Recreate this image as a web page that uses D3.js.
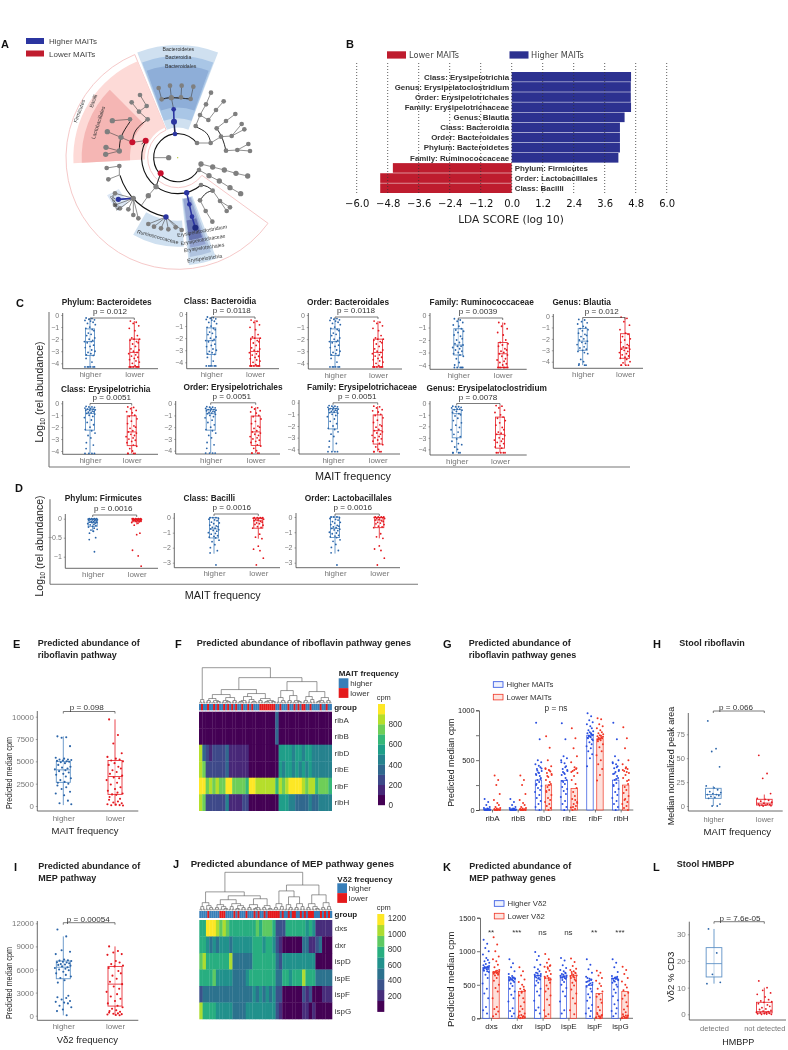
<!DOCTYPE html>
<html><head><meta charset="utf-8">
<script src="https://cdnjs.cloudflare.com/ajax/libs/d3/7.8.5/d3.min.js"></script>
<style>html,body{margin:0;padding:0;background:#fff}svg{display:block;filter:blur(.3px)}text{font-family:"Liberation Sans",Arial,sans-serif}</style>
</head><body><svg id="c" width="788" height="1050"></svg>
<script>
// ---------- DATA ----------
const ldaNames=["Class: Erysipelotrichia","Genus: Erysipelatoclostridium","Order: Erysipelotrichales","Family: Erysipelotrichaceae","Genus: Blautia","Class: Bacteroidia","Order: Bacteroidales","Phylum: Bacteroidetes","Family: Ruminococcaceae","Phylum: Firmicutes","Order: Lactobacillales","Class: Bacilli"];
const ldaValues=[4.62,4.61,4.61,4.62,4.37,4.19,4.19,4.19,4.13,-4.6,-5.09,-5.09];
const ldaTicks=[-6,-4.8,-3.6,-2.4,-1.2,0,1.2,2.4,3.6,4.8,6];

// cladogram, read in picture units around the centre (533,413)
const cladoSectors=[
 [90,335,126,337.4,"#fff","#f6c9c9"],[98,313,267,337.4,"#fddad7","none"],[143,288,267,315,"#f5b6b4","none"],
 [90,338,-21,21,"#cfe0f0","none"],[118,305,-20.5,20.5,"#a9c6e6","none"],[150,277,-19.6,19.6,"#8eaed8","none"],
 [189,267,176,210,"#cfe0f0","none"],[200,240,228,242,"#dbe6f4","none"],
 [123,324,159,174,"#cfe0f0","none"],[125,300,160.5,173,"#b0c4e0","none"],[125,272,162,172,"#94a4d2","none"],[190,250,163,172,"#6572b0","none"]];
const cladoArcs=[[72,120,412],[108,140,298],[181,191,253]];
const cladoCurves=[
 [[397,367],[408,330],[443,298]],[[358,393],[364,350],[390,305]],[[587,320],[620,340],[632,369]],[[650,325],[667,355],[678,392]],
 [[638,512],[618,520],[600,541]],[[603,495],[622,500],[638,512]],[[485,238],[514,233],[572,237]]];
const cladoNodes=[ // x,y,parentX,parentY,colour,size
 [506,413,462,413,0,8],[525,342,525,342,1,7],[522,305,525,342,1,9],[521,268,522,305,1,7],[514,233,521,268,0,8],
 [485,238,514,233,0,7],[543,232,514,233,0,7],[572,237,514,233,0,7],[476,204,485,238,0,7],[510,197,514,233,0,7],[545,197,543,232,0,7],[580,200,572,237,0,7],
 [591,369,591,369,0,7],[632,369,591,369,0,7],[587,318,587,318,0,7],[600,285,587,318,0,7],[625,300,600,285,0,7],[618,253,600,285,0,7],[633,218,618,253,0,7],[648,270,625,300,0,7],[671,244,648,270,0,7],
 [663,350,632,369,0,7],[650,325,650,325,0,7],[678,303,650,325,0,7],[706,282,678,303,0,7],[695,348,663,350,0,7],[725,312,695,348,0,7],[733,328,695,348,0,7],[678,392,678,392,0,7],[712,390,678,392,0,7],[745,372,712,390,0,7],[750,393,712,390,0,7],
 [597,450,597,450,0,7],[603,432,597,450,0,8],[638,441,603,432,0,8],[673,450,638,441,0,8],[708,460,673,450,0,8],[743,468,708,460,0,8],[627,467,597,450,0,8],[658,483,627,467,0,8],[690,503,658,483,0,8],[722,521,690,503,0,8],
 [603,495,603,495,0,7],[638,512,638,512,0,7],[600,541,600,541,0,7],[660,543,638,512,0,7],[690,562,660,543,0,7],[680,573,660,543,0,7],[617,573,600,541,0,7],[637,605,617,573,0,7],
 [560,518,560,518,1,8],[568,553,560,518,1,7],[576,590,568,553,1,7],[586,623,576,590,3,9],
 [468,500,468,500,0,8],[445,527,468,500,0,8],[425,555,445,527,0,0],[498,591,498,591,1,8],[445,612,498,591,0,7],[462,620,498,591,0,7],[483,625,498,591,0,7],[505,628,498,591,0,7],[527,622,498,591,0,7],[545,630,498,591,0,7],
 [358,465,358,465,0,0],[358,438,358,465,0,7],[320,444,358,438,0,7],[325,478,358,465,0,7],
 [400,535,400,535,0,8],[345,520,400,535,0,7],[355,538,400,535,1,8],[345,555,400,535,0,7],[360,565,400,535,0,7],[385,568,400,535,0,7],[400,585,400,535,0,7],[415,595,400,535,0,7],
 [482,460,468,500,2,9],[437,362,397,367,2,9],[397,367,363,352,2,9],[363,352,363,352,0,8],[358,393,358,393,0,8],[390,298,390,298,0,7],[337,302,390,298,0,8],[322,335,363,352,0,8],[318,382,358,393,0,8],[317,403,358,393,0,8],
 [443,298,443,298,0,7],[417,275,443,298,0,7],[395,247,417,275,0,7],[440,258,417,275,0,7],[420,225,440,258,0,7]];
const cladoLabels=[["Bacteroidetes",535,92,0],["Bacteroidia",535,117,0],["Bacteroidales",542,144,0],["Firmicutes",243,275,-70],["Bacilli",285,245,-70],["Lactobacillales",300,310,-72],["Ruminococcaceae",472,656,15],["Blautia",340,550,65],["Erysipelatoclostridium",607,638,-10],["Erysipelotrichaceae",610,664,-10],["Erysipelotrichales",613,688,-8],["Erysipelotrichia",615,720,-8]];

// jitter fractions of the box half-width
const jitter=[-.7,.35,-.2,.8,-.9,.1,.55,-.45,.95,-.05,-.75,.4,.7,-.3,.2,-.6,.85,-.15,.5,-1,.25,-.5,.65,0,-.85,.3,.9,-.35,.15,-.65,.6];

// per-taxon values (log10 rel abundance)
const bacteroidHi=[-.25,-.3,-.35,-.4,-.45,-.5,-.6,-.7,-.8,-1,-1.1,-1.2,-1.3,-1.5,-1.6,-1.7,-1.9,-2,-2.1,-2.2,-2.2,-2.3,-2.5,-2.6,-2.7,-2.9,-3,-3.1,-3.2,-3.3,-3.35,-3.6,-3.9,-4.3,-4.3,-4.3,-4.3,-4.3,-4.3];
const bacteroidLo=[-.5,-.6,-.7,-.9,-1.1,-1.3,-1.7,-1.9,-2,-2,-2.1,-2.2,-2.3,-2.4,-2.6,-2.8,-2.9,-3,-3.1,-3.2,-3.3,-3.4,-3.5,-3.6,-3.7,-3.8,-3.9,-4,-4.2,-4.3,-4.3,-4.3,-4.3,-4.3,-4.3,-4.3];
const ruminoHi=[-.3,-.4,-.5,-.6,-.8,-.9,-1.1,-1.2,-1.3,-1.4,-1.6,-1.7,-1.9,-2,-2.2,-2.3,-2.4,-2.5,-2.5,-2.6,-2.7,-2.8,-2.9,-3,-3.1,-3.2,-3.3,-3.5,-3.8,-4,-4.2,-4.2,-4.2,-4.2,-4.2];
const ruminoLo=[-.6,-.7,-.9,-1.1,-1.4,-1.6,-2,-2.2,-2.3,-2.4,-2.5,-2.7,-2.8,-2.9,-3,-3.1,-3.2,-3.3,-3.5,-3.6,-3.7,-3.8,-3.9,-4,-4.2,-4.2,-4.2,-4.2,-4.2,-4.2,-4.2];
const blautiaHi=[-.3,-.35,-.5,-.6,-.7,-.9,-1,-1.1,-1.2,-1.3,-1.5,-1.6,-1.7,-1.8,-2,-2.1,-2.2,-2.3,-2.4,-2.5,-2.7,-2.8,-2.9,-3,-3.1,-3.2,-3.3,-3.8,-4,-4.2,-4.3,-4.3,-4.3];
const blautiaLo=[-.1,-.2,-.5,-.8,-1.2,-1.5,-1.6,-1.8,-2,-2.1,-2.3,-2.5,-2.6,-2.7,-2.8,-2.9,-2.9,-3,-3.1,-3.2,-3.3,-3.4,-3.5,-3.6,-3.7,-3.8,-4,-4.1,-4.3,-4.3,-4.3,-4.3];
const erysipHi=[-.25,-.3,-.3,-.35,-.4,-.45,-.5,-.5,-.55,-.6,-.6,-.65,-.7,-.75,-.8,-.85,-.9,-1,-1.1,-1.2,-1.4,-1.6,-1.8,-2,-2.2,-2.3,-2.5,-2.7,-2.9,-3.3,-3.5,-3.8,-4.2,-4.2,-4.2,-4.2];
const erysipLo=[-.3,-.35,-.45,-.6,-.7,-.8,-1,-1.1,-1.3,-1.5,-1.7,-1.9,-2,-2.1,-2.3,-2.4,-2.5,-2.6,-2.7,-2.8,-2.9,-3,-3.1,-3.2,-3.3,-3.5,-3.6,-3.8,-4,-4.2,-4.2,-4.2,-4.2];
const clostrHi=[-.25,-.3,-.3,-.35,-.4,-.5,-.5,-.55,-.6,-.7,-.8,-.9,-1,-1.1,-1.3,-1.5,-1.7,-1.9,-2.1,-2.3,-2.5,-2.7,-2.9,-3.1,-3.3,-3.5,-3.6,-3.8,-4,-4.3,-4.3,-4.3,-4.3];
const clostrLo=[-.2,-.25,-.4,-.6,-.8,-1,-1.2,-1.3,-1.5,-1.7,-1.9,-2.1,-2.3,-2.5,-2.6,-2.7,-2.8,-3,-3.1,-3.2,-3.3,-3.4,-3.5,-3.7,-3.8,-3.9,-4.3,-4.3,-4.3,-4.3,-4.3];
const firmHi=[0,0,0,0,-.01,-.01,-.02,-.02,-.03,-.03,-.04,-.05,-.06,-.07,-.08,-.09,-.1,-.1,-.12,-.13,-.15,-.16,-.18,-.2,-.22,-.25,-.28,-.3,-.33,-.38,-.5,-.55,-.87];
const firmLo=[0,0,0,0,0,-.01,-.01,-.02,-.02,-.02,-.03,-.03,-.04,-.04,-.05,-.05,-.06,-.07,-.08,-.1,-.12,-.17,-.38,-.42,-.83,-.98,-1.25];
const bacilliHi=[0,0,0,-.05,-.1,-.15,-.2,-.3,-.35,-.4,-.5,-.55,-.6,-.65,-.7,-.75,-.8,-.85,-.9,-1,-1.05,-1.1,-1.2,-1.25,-1.3,-1.35,-1.5,-1.6,-1.8,-2,-2.2,-2.35,-3.15];
const bacilliLo=[0,0,0,0,-.03,-.05,-.05,-.1,-.1,-.15,-.2,-.25,-.3,-.35,-.4,-.45,-.5,-.6,-.65,-.7,-1.1,-1.3,-1.4,-1.9,-2.1,-2.2,-2.7,-3.15];
const bxBacteroid=[[-4.3,-3.35,-2.2,-1.15,-.25],[-4.3,-4.3,-3.1,-2,-.5]];
const bxRumino=[[-4.2,-3.2,-2.4,-1.1,-.3],[-4.2,-4.2,-3.1,-2.2,-.6]];
const bxBlautia=[[-4.3,-3,-2.2,-1.1,-.3],[-4.3,-3.7,-2.8,-1.55,-.1]];
const bxErysip=[[-4.2,-2.25,-.85,-.5,-.25],[-4.2,-3.55,-2.4,-1.05,-.3]];
const bxClostr=[[-4.3,-3,-.9,-.55,-.25],[-4.3,-3.9,-2.7,-1.2,-.2]];
const bxFirm=[[-.35,-.2,-.1,-.01,0],[-.15,-.08,-.04,-.01,0]];
const bxBacilli=[[-2.4,-1.35,-.75,0,0],[-1.4,-.7,-.2,-.03,0]];
// pathway panels
const riboHi=[7800,7700,7650,6700,5400,5300,5200,5200,5150,5100,5050,5000,4950,4900,4800,4600,4400,4300,4200,4100,4000,3900,3750,3600,3500,3300,3100,2900,2700,2600,2500,2300,2100,1900,1600,1400,1200,600,300,200];
const riboLo=[9700,7950,7000,5900,5500,5300,5200,5100,5000,4800,4600,4400,4200,4000,3800,3600,3400,3200,3100,2900,2600,2400,2100,1900,1700,1500,1400,1300,1250,1000,800,700,500,400,300,200,150,100,80,50];
const mepHi=[11200,10300,8500,8300,8000,7300,7200,7150,7100,7000,6950,6900,6800,6700,6650,6600,6500,6400,6300,6200,6100,6000,5900,5700,5500,5300,5100,4900,4600,4300,2600,2400,2300,2100,1900,1800,1700,1600,1300,1100,800,600,50];
const mepLo=[9000,8400,8200,8000,7900,7100,6900,6700,6500,6400,6200,5800,5500,5200,4800,4400,4100,3800,3500,3100,2800,2500,2200,1900,1600,1300,1100,900,700,600,500,400,300,250,200,150,100,50];
const hFlavHi=[89,60,57,41,21,19,17,15,14,13,12,12,11,10,9,8,2,0,0];
const hFlavLo=[53,34,29,13,8,7,6,5,4,3,2,2,1.5,1,1,.5,.3,0];
const hmbHi=[32,23,15,12,11.5];
const hmbLo=[12.5,10,9,8,7.5,6.5,5.5,5,4.7,4.5,4,3.5,3,2.5,2,1.8,1.5,1.2,1,.8,.6,.5,.4,.3,.2,.1,0,0];
const bxRibo=[[100,2650,4050,5000,7800],[50,1300,3300,5100,9700]];
const bxMep=[[50,4800,6300,7100,10300],[50,1250,4100,6400,9000]];
const bxFlav=[[0,8,12,18.5,21],[0,1,3,7,12]];
const bxHmb=[[11.5,14,19,25,32],[0,.5,1,4.5,10]];

const ribGenes=["ribA","ribB","ribD","ribE","ribF","ribH"];
const ribMeans=[[6,6],[6,6],[300,250],[295,215],[750,715],[300,250]];
const ribPoints=[
 [[110,80,50,30,20,15,10,8,6,5,4,3,2,1,0,0,0,0],[345,300,250,160,100,70,50,30,20,15,10,8,5,3,1,0,0,0]],
 [[110,80,50,30,20,15,10,8,6,5,4,3,2,1,0,0,0,0],[345,300,250,160,100,70,50,30,20,15,10,8,5,3,1,0,0,0]],
 [[875,710,500,480,460,445,430,410,390,375,360,340,320,300,280,260,240,220,200,180,150,120,90,60,30,0,415,395,370,350,310,250],[740,625,500,440,420,400,385,370,350,330,300,280,260,230,200,180,150,120,100,80,60,40,20,0,410,395,360,340,250,190]],
 [[870,710,540,520,500,470,440,410,390,370,350,320,300,280,260,230,210,190,160,130,90,60,30,0,480,430,400,380,360,290],[820,720,620,540,480,430,410,390,370,340,300,260,220,180,140,110,80,60,40,25,10,0,420,400,380,100,70,30]],
 [[970,940,900,880,860,840,820,800,790,780,770,760,750,740,730,720,700,680,660,640,620,590,560,520,440,770,755,745,735,725,710],[920,910,860,840,820,800,780,770,760,750,740,730,720,710,700,690,660,630,590,550,500,460,410,350,295,745,735,725,715,705]],
 [[875,710,540,500,480,460,440,420,400,380,360,340,320,300,270,240,210,180,150,120,90,60,30,0,470,430,390,365,310,250],[830,720,620,500,460,430,410,390,370,350,320,290,260,230,200,170,140,110,80,60,40,20,0,420,400,380,300,100]]];
const mepGenes=["dxs","dxr","ispD","ispE","ispF","ispG"];
const mepMeans=[[760,690],[600,400],[640,600],[630,640],[490,370],[590,400]];
const mepSig=["**","***","ns","ns","**","***"];
const mepPoints=[
 [[1170,1110,1050,1000,950,900,870,850,830,810,790,770,760,750,730,710,690,650,600,520,440,370,300,170,120,70,780,765,755,745,735,720,700],[1210,1100,1000,920,880,850,800,760,720,700,690,680,660,640,600,560,500,450,400,300,170,140,100,60,30,710,695,685,675,665,650]],
 [[880,820,760,700,660,630,610,600,590,580,570,560,540,520,480,440,400,350,300,250,150,110,70,30,615,605,595,585,575,565],[760,700,640,580,540,500,470,440,410,380,340,300,240,180,140,100,70,50,30,20,10,0,430,400,40,25,15,5]],
 [[990,930,870,800,760,730,700,680,660,640,620,600,580,560,530,490,440,400,340,260,160,120,70,670,650,640,630,610,590],[960,880,830,790,770,740,710,690,660,630,600,570,530,490,440,400,340,280,200,120,60,30,780,760,620,600,580]],
 [[900,860,790,750,720,700,680,660,640,620,610,600,590,570,540,500,450,400,330,250,120,70,670,650,635,625,615,605],[890,840,780,740,720,700,680,660,640,620,600,580,560,530,490,430,370,300,220,120,60,690,670,650,630,610]],
 [[880,800,730,680,620,590,570,550,530,500,470,440,400,360,310,260,200,150,110,70,30,600,580,560,540,520,500],[710,680,640,600,560,520,480,440,400,360,320,280,230,170,120,80,50,30,20,10,0,60,40,25,15,5]],
 [[880,830,760,690,630,610,600,590,570,550,530,500,470,430,380,330,270,210,150,110,70,30,620,605,595,585,575,560],[770,720,660,600,550,500,460,420,380,340,290,240,180,130,90,60,40,20,10,0,40,30,20,10,5]]];

// heatmaps: genes by 40 ordered columns (cpm)
const heatF=[
 [60,0,0,0,0,0,0,0,0,0,0,0,0,60,0,0,0,0,0,0,0,0,0,350,0,0,0,0,0,0,0,0,0,0,0,60,0,0,0,0],
 [60,0,0,0,0,0,0,0,0,0,0,0,0,60,0,0,0,0,0,0,0,0,0,350,0,0,0,0,0,0,0,0,0,0,0,60,0,0,0,0],
 [850,350,250,150,250,250,250,250,350,130,130,130,130,130,130,10,10,10,10,10,10,60,10,10,520,580,500,520,450,500,520,450,500,550,420,420,450,420,420,450],
 [880,720,250,250,250,250,250,250,350,130,130,130,130,130,130,10,10,10,10,10,10,10,10,60,520,480,560,500,460,500,450,520,460,520,420,450,420,450,420,420],
 [950,980,750,800,780,850,780,750,900,960,780,780,780,780,650,900,950,800,800,800,800,800,850,650,800,780,880,950,980,900,950,820,780,850,820,650,720,720,720,650],
 [880,700,250,250,250,250,250,250,400,130,180,130,130,220,220,10,10,10,10,10,10,10,10,10,550,580,520,460,460,380,350,350,350,400,350,350,400,400,400,400]];
const heatJ=[
 [720,720,1180,1250,1220,1100,960,980,920,760,720,700,760,800,720,760,820,950,820,900,950,880,820,350,300,380,700,760,740,720,760,820,650,800,680,200,230,200,180,230],
 [800,720,560,520,600,520,560,600,560,520,600,620,580,640,620,560,720,700,720,680,720,700,680,320,260,0,0,0,0,0,0,450,430,250,260,400,420,120,100,90],
 [950,980,760,720,820,760,740,760,800,1030,520,500,480,500,520,520,780,820,760,780,800,780,760,420,360,650,640,680,620,660,640,620,680,640,680,50,60,40,50,50],
 [820,800,780,800,840,620,600,640,600,560,500,520,480,500,680,700,720,700,720,700,700,720,700,500,480,720,700,680,720,700,720,1000,800,820,780,460,440,480,430,450],
 [350,520,500,430,460,440,480,420,460,440,520,500,480,520,500,540,560,540,560,520,580,540,560,340,300,0,0,0,0,0,0,320,260,280,50,50,60,250,230,260],
 [1020,820,780,800,760,640,620,600,580,560,450,430,470,450,640,660,680,640,660,620,660,640,680,300,260,0,0,0,0,0,0,200,220,130,150,60,50,40,60,50]];
const groupF="hlhhlhhlhlhhlhlhlhlhhlhhlhlhhhllllllllhhlhhhlhhlhlhllhhlhhhhlhhlhh";
const groupJ="hhhhlhhhhhlllhhhhlhlhhhlhhhlhlhhlhllllllhlhhlhllhhlhlhlllhhhlhlhlh";
const treeF=[36,[4,0,0],[26,
 [14,[9,[5,[3,0,0],[3,0,[2,0,0]]],[6,[3,0,[2,0,0]],[3,0,0]]],[10,[7,[3,[2,0,0],0],[4,0,[2,0,0]]],[5,[3,0,0],[3,[2,0,0],[2,0,0]]]]],
 [22,[13,[6,0,[3,0,0]],[8,[3,0,0],[3,0,[2,0,0]]]],[12,[7,[3,0,0],[4,0,0]],[6,[3,[2,0,0],0],[3,0,0]]]]]];
const treeJ=[39,[19,[8,[4,0,0],[5,0,[3,0,0]]],[15,[11,[6,[3,0,0],[4,0,[2,0,0]]],[7,[4,0,0],[5,[2,0,0],[3,0,0]]]],[12,[6,[3,0,0],[3,[2,0,0],0]],[5,[3,0,0],[2,0,0]]]]],
 [26,[20,[7,[3,0,0],[4,0,0]],[14,[6,0,[3,0,0]],[7,[3,0,0],[4,0,0]]]],[16,[7,[3,0,0],[4,0,[2,0,0]]],[8,[3,0,0],[4,0,0]]]]];

// ---------- LAYOUT ----------
const BLUE="#2a64a8",RED="#e3171e",BLUEB="#5f92c6",REDB="#e8323a",GRAY="#777",INK="#333";
const svg=d3.select("#c");
svg.append("rect").attr("width",788).attr("height",1050).attr("fill","#fff");
function t(x,y,s,o={}){const e=svg.append("text").attr("x",x).attr("y",y).text(s)
 .attr("font-size",o.fs||8).attr("fill",o.c||INK).attr("text-anchor",o.a||"start").attr("font-weight",o.b?"bold":"normal");
 if(o.r!==undefined)e.attr("transform",`rotate(${o.r} ${x} ${y})`);if(o.f)e.style("font-family",o.f);
 if(o.len)e.attr("textLength",o.len).attr("lengthAdjust","spacingAndGlyphs");return e;}
function line(x1,y1,x2,y2,c,w){svg.append("line").attr("x1",x1).attr("y1",y1).attr("x2",x2).attr("y2",y2).attr("stroke",c).attr("stroke-width",w);}
[["A",1,48],["B",346,47.5],["C",16,306.5],["D",15,492],["E",13,648],["F",175,648],["G",443,648],["H",653,648],["I",14,871],["J",173,868],["K",443,871],["L",653,871]]
 .forEach(d=>t(d[1],d[2],d[0],{fs:11,b:1,c:"#111"}));

// ---- A ----
const ax=d3.scaleLinear([0,1020],[0,340]),ay=d3.scaleLinear([0,810],[20,290]),ar=d3.scaleLinear([0,300],[0,100]);
const cx=ax(533),cy=ay(413),rad=Math.PI/180;
const gA=svg.append("g").attr("transform",`translate(${cx},${cy})`);
const arc=d3.arc();
cladoSectors.forEach(s=>gA.append("path").attr("d",arc({innerRadius:ar(s[0]),outerRadius:ar(s[1]),startAngle:s[2]*rad,endAngle:s[3]*rad})).attr("fill",s[4]).attr("stroke",s[5]).attr("stroke-width",1));
cladoArcs.forEach(s=>gA.append("path").attr("d",arc({innerRadius:ar(s[0]),outerRadius:ar(s[0]),startAngle:s[1]*rad,endAngle:s[2]*rad})).attr("fill","none").attr("stroke","#111").attr("stroke-width",1.1));
const curveGen=d3.line().x(d=>ax(d[0])).y(d=>ay(d[1])).curve(d3.curveNatural);
cladoCurves.forEach(c=>svg.append("path").attr("d",curveGen(c)).attr("fill","none").attr("stroke","#111").attr("stroke-width",.9));
const nodeCol=["#7f7f7f","#2b35a0","#c8102e","#1f2a80"];
cladoNodes.forEach(n=>{const blue=n[4]===1||n[4]===3;line(ax(n[2]),ay(n[3]),ax(n[0]),ay(n[1]),blue?"#2b35a0":"#444",blue?1.6:.6);});
[[525,342,522,305],[482,460,468,500],[437,362,425,372]].forEach(d=>line(ax(d[0]),ay(d[1]),ax(d[2]),ay(d[3]),"#222",.8));
cladoNodes.filter(n=>n[5]).forEach(n=>svg.append("circle").attr("cx",ax(n[0])).attr("cy",ay(n[1])).attr("r",ar(n[5])).attr("fill",nodeCol[n[4]]));
svg.append("circle").attr("cx",cx).attr("cy",cy).attr("r",.7).attr("fill","#b8c43a");
cladoLabels.forEach(l=>t(ax(l[1]),ay(l[2]),l[0],{fs:5.2,c:"#333",a:"middle",r:l[3]}));
[["Higher MAITs","#2b35a0",38],["Lower MAITs","#c01c2e",50.5]].forEach(d=>{svg.append("rect").attr("x",26).attr("y",d[2]).attr("width",18).attr("height",6).attr("fill",d[1]);t(49,d[2]+6,d[0],{fs:8,c:"#444"});});

// ---- B ----
const bx=d3.scaleLinear([-6,6],[356.7,666.7]);
const by=d3.scaleBand(ldaNames,[71.5,193.5]).padding(.05);
svg.selectAll(".lda").data(ldaNames).join("rect").attr("x",(d,i)=>bx(Math.min(0,ldaValues[i]))).attr("y",d=>by(d)).attr("width",(d,i)=>Math.abs(bx(ldaValues[i])-bx(0))).attr("height",by.bandwidth()).attr("fill",(d,i)=>ldaValues[i]>0?"#2c3190":"#be1c2e");
ldaTicks.forEach(v=>svg.append("line").attr("x1",bx(v)).attr("x2",bx(v)).attr("y1",63).attr("y2",193).attr("stroke","#333").attr("stroke-width",.8).attr("stroke-dasharray","1,2"));
ldaNames.forEach((d,i)=>{const pos=ldaValues[i]>0;t(bx(0)+(pos?-2.5:3),by(d)+by.bandwidth()/2+2.8,d,{fs:7.9,b:1,c:"#333",a:pos?"end":"start"});});
const bAxis=svg.append("g").attr("transform","translate(0,193)").call(d3.axisBottom(bx).tickValues(ldaTicks).tickSize(0).tickPadding(7).tickFormat(v=>d3.format(".1f")(v).replace("-","\u2212")));
bAxis.select(".domain").remove();bAxis.selectAll("text").attr("font-size",10).attr("fill","#111").style("font-family","DejaVu Sans");
t(511,222.5,"LDA SCORE (log 10)",{fs:10.6,a:"middle",c:"#222",f:"DejaVu Sans"});
[["Lower MAITs","#be1c2e",387,409],["Higher MAITs","#2c3190",509.5,531]].forEach(d=>{svg.append("rect").attr("x",d[2]).attr("y",51.3).attr("width",19).attr("height",7.3).attr("fill",d[1]);t(d[3],57.8,d[0],{fs:8.2,c:"#444",f:"DejaVu Sans"});});

// ---- box panels ----
function boxPanel(p){
 const y=d3.scaleLinear([p.tk[0],p.tk[1]],[p.y0,p.y1]);
 const x=d3.scaleOrdinal(p.cats,[p.hi,p.lo]);
 const ya=svg.append("g").attr("transform",`translate(${p.ax},0)`).call(d3.axisLeft(y).tickValues(p.ticks).tickSize(p.tsize||1.5).tickPadding(p.pad||2).tickFormat(v=>String(v).replace("-","\u2212")));
 ya.select(".domain").remove();ya.selectAll("line").attr("stroke","#555").attr("stroke-width",.5);
 ya.selectAll("text").attr("font-size",p.tfs||7).attr("fill",GRAY);
 const xa=svg.append("g").attr("transform",`translate(0,${p.bot})`).call(d3.axisBottom(x).tickSize(0).tickPadding(p.xpad||3));
 xa.select(".domain").remove();xa.selectAll("text").attr("font-size",p.xfs||8).attr("fill",GRAY);
 line(p.ax,p.top,p.ax,p.bot,"#444",.8);line(p.ax,p.bot,p.xr,p.bot,"#444",.8);
 const w=p.bw||9;
 p.box.forEach((b,i)=>{const c=x(p.cats[i]),col=i?REDB:BLUEB;
  line(c,y(b[0]),c,y(b[4]),col,.9);
  svg.append("rect").attr("x",c-w/2).attr("y",y(b[3])).attr("width",w).attr("height",Math.abs(y(b[1])-y(b[3]))).attr("fill","#fff").attr("fill-opacity",.55).attr("stroke",col).attr("stroke-width",.9);
  line(c-w/2,y(b[2]),c+w/2,y(b[2]),col,.9);
  svg.selectAll(null).data(p.pts[i]).join("circle").attr("cx",(d,k)=>c+jitter[k%jitter.length]*w*(p.jit||.62)).attr("cy",d=>y(d)).attr("r",p.pr||.9).attr("fill",i?RED:BLUE);
 });
 if(p.title)t(p.tx,p.ty,p.title,{fs:p.tlfs||8.3,b:1,c:"#222",a:"middle"});
 const by0=p.brY||p.py+4;
 svg.append("path").attr("d",`M${p.hi},${by0+2}V${by0}H${p.lo}V${by0+2}`).attr("fill","none").attr("stroke","#444").attr("stroke-width",.7);
 t(p.px,p.py,p.p,{fs:p.pfs||8.1,a:"middle",c:"#333"});
}
const cats=["higher","lower"],tk4=[0,-1,-2,-3,-4];
function cp(o){return Object.assign({cats,ticks:tk4,tk:[0,-4]},o);}
[
 cp({title:"Phylum: Bacteroidetes",p:"p = 0.012",ax:62.7,xr:158,top:313,bot:368.7,y0:315,y1:363.3,hi:90,lo:134.3,tx:106.7,ty:304.5,px:110,py:314,box:bxBacteroid,pts:[bacteroidHi,bacteroidLo]}),
 cp({title:"Class: Bacteroidia",p:"p = 0.0118",ax:186.7,xr:279,top:312,bot:368.7,y0:314,y1:362.3,hi:211.3,lo:255,tx:220,ty:304,px:231.7,py:313,box:bxBacteroid,pts:[bacteroidHi,bacteroidLo]}),
 cp({title:"Order: Bacteroidales",p:"p = 0.0118",ax:308.3,xr:402,top:313,bot:369,y0:315,y1:363.3,hi:335,lo:378,tx:348,ty:304.5,px:356,py:313,box:bxBacteroid,pts:[bacteroidHi,bacteroidLo]}),
 cp({title:"Family: Ruminococcaceae",p:"p = 0.0039",ax:430,xr:526.7,top:313,bot:369.3,y0:315,y1:365,hi:458.3,lo:502.7,tx:481.7,ty:305,px:478,py:314,box:bxRumino,pts:[ruminoHi,ruminoLo]}),
 cp({title:"Genus: Blautia",p:"p = 0.012",ax:553.3,xr:643,top:314,bot:368.3,y0:316,y1:361.7,hi:582.7,lo:625,tx:581.7,ty:304.5,px:601.7,py:313.5,box:bxBlautia,pts:[blautiaHi,blautiaLo]}),
 cp({title:"Class: Erysipelotrichia",p:"p = 0.0051",ax:62.7,xr:158,top:401,bot:454.3,y0:403.3,y1:451,hi:90,lo:131.7,tx:105.7,ty:391.5,px:111.7,py:399.5,box:bxErysip,pts:[erysipHi,erysipLo]}),
 cp({title:"Order: Erysipelotrichales",p:"p = 0.0051",ax:175.7,xr:280,top:401,bot:454,y0:403.7,y1:450.7,hi:210.7,lo:255.7,tx:233,ty:390,px:231.7,py:398.8,box:bxErysip,pts:[erysipHi,erysipLo]}),
 cp({title:"Family: Erysipelotrichaceae",p:"p = 0.0051",ax:299,xr:400,top:400,bot:454,y0:402.7,y1:449.3,hi:333,lo:377.7,tx:362,ty:390,px:357.3,py:398.8,box:bxErysip,pts:[erysipHi,erysipLo]}),
 cp({title:"Genus: Erysipelatoclostridium",p:"p = 0.0078",ax:430,xr:526.7,top:401,bot:455,y0:403.3,y1:449.3,hi:456.7,lo:500,tx:486.7,ty:391,px:478,py:399.5,box:bxClostr,pts:[clostrHi,clostrLo]}),
 cp({title:"Phylum: Firmicutes",p:"p = 0.0016",ax:65.3,xr:158,top:514,bot:568.3,y0:518.7,y1:556.7,tk:[0,-1],ticks:[0,-.5,-1],hi:92.7,lo:136.7,tx:103.3,ty:501,px:113.3,py:511,box:bxFirm,pts:[firmHi,firmLo],jit:.55}),
 cp({title:"Class: Bacilli",p:"p = 0.0016",ax:174.3,xr:280,top:513,bot:567.7,y0:517.7,y1:562.7,tk:[0,-3],ticks:[0,-1,-2,-3],hi:214,lo:258.3,tx:209.3,ty:501,px:231.7,py:510,box:bxBacilli,pts:[bacilliHi,bacilliLo]}),
 cp({title:"Order: Lactobacillales",p:"p = 0.0016",ax:296,xr:400,top:513,bot:567.7,y0:517,y1:562.7,tk:[0,-3],ticks:[0,-1,-2,-3],hi:335,lo:379.3,tx:348.3,ty:501,px:352.7,py:510,box:bxBacilli,pts:[bacilliHi,bacilliLo]})
].forEach(boxPanel);
// outer frames C, D
line(49,312,49,467,"#777",1.1);line(49,467,630,467,"#777",1.1);
line(50,499.3,50,584.3,"#777",1.1);line(50,584.3,418,584.3,"#777",1.1);
function logLabel(x,y){const e=svg.append("text").attr("transform",`translate(${x},${y}) rotate(-90)`).attr("text-anchor","middle").attr("font-size",10.5).attr("fill","#222");
 e.append("tspan").text("Log");e.append("tspan").text("10").attr("font-size",6.3).attr("dy",1.5);e.append("tspan").text(" (rel abundance)").attr("dy",-1.5);}
logLabel(43,392);logLabel(43,546);
t(353,480,"MAIT frequency",{fs:10.8,a:"middle",c:"#222"});
t(222.7,598.5,"MAIT frequency",{fs:10.8,a:"middle",c:"#222"});

// E, I, H, L
function titleBlock(x,y,lines,fs){lines.forEach((l,i)=>t(x,y+i*12.2,l,{fs:fs||9,b:1,c:"#222"}));}
titleBlock(37.7,646,["Predicted abundance of","riboflavin pathway"]);
boxPanel({cats,ticks:[0,2500,5000,7500,10000],tk:[0,10000],ax:37.3,xr:138.3,top:711,bot:811,y0:806,y1:716.7,hi:63.3,lo:115,box:bxRibo,pts:[riboHi,riboLo],bw:14,p:"p = 0.098",px:86.7,py:710,brY:711.5,tfs:7.8,xfs:8,xpad:4,tsize:1.5,pr:1.05,jit:.6});
t(85,833.5,"MAIT frequency",{fs:9.5,a:"middle",c:"#222"});
t(12,773,"Predicted median cpm",{fs:8.8,a:"middle",r:-90,c:"#222",len:72});
titleBlock(38.3,869,["Predicted abundance of","MEP pathway"]);
boxPanel({cats,ticks:[0,3000,6000,9000,12000],tk:[0,12000],ax:37.3,xr:138.3,top:921,bot:1020.3,y0:1015.7,y1:923.3,hi:63.3,lo:115,box:bxMep,pts:[mepHi,mepLo],bw:14,p:"p = 0.00054",px:88.3,py:921.5,brY:922.7,tfs:7.8,xfs:8,xpad:3,pr:1.05,jit:.6});
t(87.3,1043,"V\u03b42 frequency",{fs:9.5,a:"middle",c:"#222"});
t(12,983,"Predicted median cpm",{fs:8.8,a:"middle",r:-90,c:"#222",len:72});
t(679.3,645.5,"Stool riboflavin",{fs:9,b:1,c:"#222"});
boxPanel({cats,ticks:[0,25,50,75],tk:[0,75],ax:688.3,xr:782.7,top:713,bot:811,y0:806,y1:734.3,hi:713.3,lo:764.3,box:bxFlav,pts:[hFlavHi,hFlavLo],bw:15.7,p:"p = 0.066",px:736,py:710,brY:711,tfs:7.5,xfs:7.5,xpad:6,jit:.5});
t(737.3,835,"MAIT frequency",{fs:9.6,a:"middle",c:"#222"});
t(674,766,"Median normalized peak area",{fs:9,a:"middle",r:-90,c:"#222"});
t(676.7,867,"Stool HMBPP",{fs:9,b:1,c:"#222"});
boxPanel({cats:["detected","not detected"],ticks:[0,10,20,30],tk:[0,30],ax:689.3,xr:786,top:921.7,bot:1020,y0:1014.3,y1:934.3,hi:714,lo:764.3,box:bxHmb,pts:[hmbHi,hmbLo],bw:15.7,p:"p = 7.6e-05",px:740,py:921,brY:921.7,tfs:8,xfs:7.5,xpad:6,jit:.5});
t(738.3,1044.5,"HMBPP",{fs:9,a:"middle",c:"#222"});
t(674,976.7,"V\u03b42 % CD3",{fs:9.6,a:"middle",r:-90,c:"#222"});

// bar panels G, K
function barPanel(p){
 const y=d3.scaleLinear([0,p.max],[p.y0,p.y1]);
 const x=d3.scalePoint(p.genes,[p.c0,p.c1]);
 const o=d3.scalePoint([0,1],[-5,5]);
 const ya=svg.append("g").attr("transform",`translate(${p.ax},0)`).call(d3.axisLeft(y).tickValues(p.ticks).tickSize(3).tickPadding(1.5).tickFormat(v=>p.labels.includes(v)?v:""));
 ya.selectAll("text").attr("font-size",7.4).attr("fill","#222");ya.select(".domain").attr("stroke","#333").attr("stroke-width",.7);ya.selectAll("line").attr("stroke","#333").attr("stroke-width",.7);
 const xa=svg.append("g").attr("transform",`translate(0,${p.y0})`).call(d3.axisBottom(x).tickSize(2.5).tickPadding(3));
 xa.select(".domain").remove();xa.selectAll("line").attr("stroke","#333").attr("stroke-width",.6);xa.selectAll("text").attr("font-size",8).attr("fill","#222");
 line(p.ax,p.y0,p.xr,p.y0,"#333",.7);
 const cols=["#2a4fe0","#f03525"],pale=["#fff","#fdd8d2"];
 p.genes.forEach((g,i)=>[0,1].forEach(s=>{const c=x(g)+o(s),m=p.means[i][s];
  svg.append("rect").attr("x",c-3.2).attr("y",y(m)).attr("width",6.4).attr("height",y(0)-y(m)).attr("fill",pale[s]).attr("fill-opacity",.8).attr("stroke",cols[s]).attr("stroke-width",.7);
  svg.selectAll(null).data(p.pts[i][s]).join("circle").attr("cx",(d,k)=>c+jitter[k%jitter.length]*3.4).attr("cy",d=>y(d)).attr("r",1).attr("fill",cols[s]);
 }));
 p.leg.forEach((l,i)=>{svg.append("rect").attr("x",p.lx).attr("y",p.ly[i]).attr("width",9.7).attr("height",5.6).attr("fill",["#eef1fd","#fde4df"][i]).attr("stroke",cols[i]).attr("stroke-width",.8);t(p.lx+13.3,p.ly[i]+5.6,l,{fs:7.8,c:"#333"});});
 return {x,o};
}
titleBlock(468.7,646,["Predicted abundance of","riboflavin pathway genes"]);
barPanel({genes:ribGenes,means:ribMeans,pts:ribPoints,max:1000,y0:810,y1:710.3,ax:479,xr:633.3,c0:492,c1:620.7,ticks:[0,250,500,750,1000],labels:[0,500,1000],lx:493.3,ly:[681.7,694.3],leg:["Higher MAITs","Lower MAITs"]});
t(556,711,"p = ns",{fs:8.3,a:"middle"});
t(454,762.7,"Predicted median cpm",{fs:8.9,a:"middle",r:-90,c:"#222"});
titleBlock(469.3,869,["Predicted abundance of","MEP pathway genes"]);
const kk=barPanel({genes:mepGenes,means:mepMeans,pts:mepPoints,max:1500,y0:1018.3,y1:917.7,ax:480,xr:633,c0:491,c1:620,ticks:[0,500,1000,1500],labels:[0,500,1000,1500],lx:494.3,ly:[900.7,913.3],leg:["Higher V\u03b42","Lower V\u03b42"]});
mepGenes.forEach((g,i)=>t(kk.x(g),mepSig[i]==="ns"?935:934.5,mepSig[i],{fs:8,a:"middle"}));
t(454,979.3,"Predicted median cpm",{fs:9.6,a:"middle",r:-90,c:"#222"});

// heatmaps F, J
function heatPanel(p){
 const cols=d3.range(p.data[0].length);
 const x=d3.scaleBand(cols,[p.x0,p.x1]);
 const y=d3.scaleBand(p.genes,[p.y0,p.y1]);
 const col=d3.scaleQuantize([0,p.vmax],d3.quantize(d3.interpolateViridis,p.bins));
 p.data.forEach((r,i)=>svg.selectAll(null).data(r).join("rect").attr("x",(d,k)=>x(k)).attr("y",y(p.genes[i])).attr("width",x.bandwidth()+.3).attr("height",y.bandwidth()+.3).attr("fill",d=>col(d)));
 p.genes.forEach(g=>t(p.x1+2.8,y(g)+y.bandwidth()/2+2.8,g,{fs:8,c:"#333"}));
 const gx=d3.scaleBand(d3.range(p.group.length),[p.x0,p.x1]);
 svg.selectAll(null).data(p.group.split("")).join("rect").attr("x",(d,k)=>gx(k)).attr("y",p.gy0).attr("width",gx.bandwidth()+.2).attr("height",p.gy1-p.gy0).attr("fill",d=>d==="h"?"#377eb8":"#e41a1c");
 t(p.x1+2.5,(p.gy0+p.gy1)/2+2.8,"group",{fs:8,b:1,c:"#222"});
 // dendrogram: each typed leaf opens into a tiny fork
 let n=0;(function c(a){if(a===0)n++;else{c(a[1]);c(a[2]);}})(p.tree);
 const dx=d3.scaleLinear([0,n],[p.x0,p.x1]),dy=d3.scaleLinear([0,p.tree[0]],[p.gy0-.5,p.dTop]);
 let k=0;const pth=d3.path();
 (function w(a){if(a===0){k++;const l=dx(k-.75),r=dx(k-.25);
   pth.moveTo(l,dy(0));pth.lineTo(l,dy(1.4));pth.lineTo(r,dy(1.4));pth.lineTo(r,dy(0));
   return [dx(k-.5),1.4];}
  const l=w(a[1]),r=w(a[2]);
  pth.moveTo(l[0],dy(l[1]));pth.lineTo(l[0],dy(a[0]));pth.lineTo(r[0],dy(a[0]));pth.lineTo(r[0],dy(r[1]));
  return [(l[0]+r[0])/2,a[0]];})(p.tree);
 svg.append("path").attr("d",pth.toString()).attr("fill","none").attr("stroke","#555").attr("stroke-width",.6);
 // legends
 t(p.lx,p.lt,p.ltitle,{fs:8,b:1,c:"#222"});
 ["higher","lower"].forEach((g,i)=>{svg.append("rect").attr("x",p.lx).attr("y",p.ls+i*9.8).attr("width",9.7).attr("height",9.8).attr("fill",i?"#e41a1c":"#377eb8");t(p.lx+11.5,p.ls+i*9.8+7.5,g,{fs:8,c:"#333"});});
 t(376.7,p.cpmY,"cpm",{fs:7.5,c:"#333"});
 const cb=d3.scaleLinear([0,p.vmax],[p.cb1,p.cb0]);
 col.range().forEach(c=>{const e=col.invertExtent(c);svg.append("rect").attr("x",p.cbx).attr("y",cb(e[1])).attr("width",7).attr("height",cb(e[0])-cb(e[1])+.2).attr("fill",c);});
 p.cbt.forEach(v=>t(p.cbx+10.5,cb(v)+3,v,{fs:8.2,c:"#333"}));
}
t(196.7,645.8,"Predicted abundance of riboflavin pathway genes",{fs:9.1,b:1,c:"#222"});
heatPanel({data:heatF,genes:ribGenes,group:groupF,tree:treeF,x0:199,x1:331.7,y0:711.7,y1:810.7,gy0:704,gy1:710.3,dTop:667.7,vmax:1000,bins:10,lx:338.7,lt:676,ltitle:"MAIT frequency",ls:678.3,cpmY:699.5,cbx:378,cb0:704,cb1:805,cbt:[0,200,400,600,800]});
t(190.7,867,"Predicted abundance of MEP pathway genes",{fs:9.6,b:1,c:"#222"});
heatPanel({data:heatJ,genes:mepGenes,group:groupJ,tree:treeJ,x0:199.3,x1:332,y0:920,y1:1019,gy0:911,gy1:918,dTop:872.3,vmax:1250,bins:9,lx:337.3,lt:881.5,ltitle:"V\u03b42 frequency",ls:883.3,cpmY:909.5,cbx:377.3,cb0:914,cb1:1011.7,cbt:[200,400,600,800,1000,1200]});
</script></body></html>
